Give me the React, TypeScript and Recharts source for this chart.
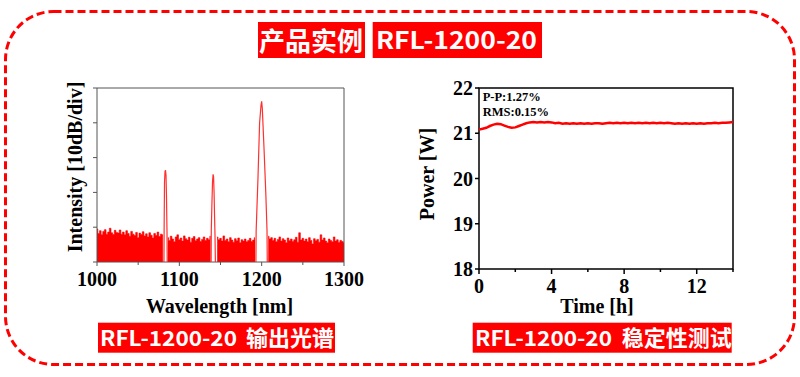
import React from 'react';
import {
  ComposedChart,
  LineChart,
  Line,
  Area,
  XAxis,
  YAxis,
  ReferenceArea,
  Label,
  Customized,
} from 'recharts';

const RED = '#ff0000';
const SERIF = '"Liberation Serif", "Times New Roman", serif';
const SANS = '"Noto Sans CJK SC", "Noto Sans", sans-serif';

// output spectrum, intensity in divisions (10 dB/div)
// noise floor sampled every 2 nm from 1000 nm; null where the lines sit
const floorStart = 1000;
const floorStep = 2;
const floorLevel: (number | null)[] = [
  // 1000 - 1030
  0.95, 0.82, 0.9, 0.78, 0.88, 0.93, 0.8, 0.86, 0.97, 0.84, 0.79, 0.91, 0.85, 0.83, 0.92, 0.8,
  // 1032 - 1080
  0.86, 0.78, 0.9, 0.82, 0.74, 0.88, 0.8, 0.76, 0.85, 0.7, 0.83, 0.79, 0.87, 0.75, 0.81, 0.72,
  0.84, 0.77, 0.69, 0.82, 0.76, 0.86, 0.73, 0.8, 0.78,
  // 1082 - 1084
  null, null,
  // 1086 - 1138
  0.7, 0.62, 0.74, 0.66, 0.58, 0.72, 0.78, 0.64, 0.69, 0.6, 0.75, 0.67, 0.63, 0.71, 0.57, 0.68,
  0.73, 0.61, 0.66, 0.7, 0.59, 0.65, 0.72, 0.62, 0.68, 0.64, 0.74,
  // 1140 - 1144
  null, null, null,
  // 1146 - 1192
  0.72, 0.64, 0.68, 0.6, 0.75, 0.62, 0.66, 0.58, 0.7, 0.63, 0.57, 0.67, 0.61, 0.69, 0.55, 0.64,
  0.6, 0.66, 0.58, 0.62, 0.68, 0.59, 0.63, 0.7,
  // 1194 - 1206
  null, null, null, null, null, null, null,
  // 1208 - 1300
  0.74, 0.66, 0.7, 0.62, 0.68, 0.58, 0.65, 0.72, 0.6, 0.67, 0.63, 0.55, 0.69, 0.61, 0.66, 0.59,
  0.64, 0.71, 0.57, 0.84, 0.63, 0.68, 0.6, 0.66, 0.58, 0.7, 0.62, 0.52, 0.67, 0.61, 0.65, 0.57,
  0.78, 0.63, 0.69, 0.6, 0.55, 0.66, 0.62, 0.58, 0.72, 0.6, 0.64, 0.56, 0.62, 0.59, 0.55,
];

const peak1083Nm = [1081.3, 1081.6, 1082.0, 1082.6, 1083.2, 1083.8, 1084.4, 1085.0, 1085.3];
const peak1083Lv = [0, 1.2, 2.3, 2.6, 2.64, 2.5, 1.9, 0.9, 0];
const peak1142Nm = [1138.6, 1138.8, 1139.5, 1140.3, 1141.0, 1141.6, 1142.2, 1142.8, 1143.3, 1143.8];
const peak1142Lv = [0, 0.9, 1.6, 2.3, 2.52, 2.45, 2.0, 1.3, 0.8, 0];
const peak1200Nm = [1193.0, 1193.3, 1195.5, 1197.5, 1199.2, 1200.0, 1200.8, 1202.8, 1205.0, 1206.5, 1206.8];
const peak1200Lv = [0, 0.9, 2.4, 4.0, 4.5, 4.62, 4.4, 3.3, 2.0, 0.9, 0];

const wlTicks = [1000, 1050, 1100, 1150, 1200, 1250, 1300];
const divTicks = [0, 1, 2, 3, 4, 5];

// stability test, sampled every 0.2 h
const timeStep = 0.2;
const powerW = [
  21.08, 21.1, 21.12, 21.16, 21.19, 21.21, 21.2, 21.17, 21.14, 21.12, 21.13, 21.16, 21.19, 21.22,
  21.24, 21.25, 21.24, 21.25, 21.24, 21.25, 21.24, 21.22, 21.23, 21.21, 21.22, 21.21, 21.22, 21.21,
  21.22, 21.21, 21.22, 21.21, 21.22, 21.22, 21.21, 21.22, 21.23, 21.22, 21.23, 21.22, 21.23, 21.22,
  21.23, 21.22, 21.23, 21.22, 21.23, 21.22, 21.23, 21.22, 21.23, 21.22, 21.23, 21.22, 21.21, 21.22,
  21.21, 21.22, 21.21, 21.22, 21.21, 21.22, 21.21, 21.22, 21.22, 21.23, 21.22, 21.23, 21.23, 21.24,
  21.25,
];
const timeTicks = [0, 2, 4, 6, 8, 10, 12, 14];
const powerTicks = [18, 19, 20, 21, 22];

const spectrumRows: { x: number; floor?: number; peak?: number }[] = [];
floorLevel.forEach((v, i) => {
  if (v !== null) spectrumRows.push({ x: floorStart + i * floorStep, floor: v });
});
[
  [peak1083Nm, peak1083Lv],
  [peak1142Nm, peak1142Lv],
  [peak1200Nm, peak1200Lv],
].forEach(([nm, lv]) => nm.forEach((x, i) => spectrumRows.push({ x, peak: lv[i] })));
spectrumRows.sort((a, b) => a.x - b.x);

const stabilityRows = powerW.map((p, i) => ({ t: i * timeStep, p }));

const tickFont = { fontFamily: SERIF, fontWeight: 700, fontSize: 20, fill: '#000' };

function WlTick({ x, y, payload }: any) {
  const major = payload.value % 100 === 0;
  return (
    <g>
      <line x1={x} y1={y} x2={x} y2={y + (major ? 4 : 3)} stroke="#555" />
      {major && (
        <text x={x} y={y + 17} textAnchor="middle" dominantBaseline="central" {...tickFont}>
          {payload.value}
        </text>
      )}
    </g>
  );
}

function DivTick({ x, y }: any) {
  return <line x1={x} y1={y} x2={x - 4} y2={y} stroke="#555" />;
}

function TimeTick({ x, y, payload }: any) {
  const major = payload.value % 4 === 0;
  return (
    <g>
      <line x1={x} y1={y} x2={x} y2={y + (major ? 5 : 3)} stroke="#000" strokeWidth={1.5} />
      {major && payload.value < 14 && (
        <text x={x} y={y + 17} textAnchor="middle" dominantBaseline="central" {...tickFont}>
          {payload.value}
        </text>
      )}
    </g>
  );
}

function PowerTick({ x, y, payload }: any) {
  return (
    <g>
      <line x1={x} y1={y} x2={x - 4} y2={y} stroke="#000" strokeWidth={1.5} />
      <text x={x - 6} y={y} textAnchor="end" dominantBaseline="central" {...tickFont}>
        {payload.value}
      </text>
    </g>
  );
}

function SpectrumChart() {
  return (
    <ComposedChart
      width={340}
      height={250}
      data={spectrumRows}
      margin={{ top: 18, right: 36, left: 0, bottom: 0 }}
    >
      <XAxis
        dataKey="x"
        type="number"
        domain={[1000, 1300]}
        ticks={wlTicks}
        interval={0}
        height={58}
        axisLine={false}
        tickLine={false}
        tickSize={0}
        tickMargin={0}
        tick={WlTick}
      >
        <Label
          content={() => (
            <text x={179.5} y={236} textAnchor="middle" dominantBaseline="central" {...tickFont}>
              Wavelength [nm]
            </text>
          )}
        />
      </XAxis>
      <YAxis
        type="number"
        domain={[0, 5]}
        ticks={divTicks}
        interval={0}
        width={57}
        axisLine={false}
        tickLine={false}
        tickSize={0}
        tickMargin={0}
        tick={DivTick}
      >
        <Label
          content={() => (
            <text
              x={35}
              y={97}
              transform="rotate(-90 35 97)"
              textAnchor="middle"
              dominantBaseline="central"
              {...tickFont}
            >
              Intensity [10dB/div]
            </text>
          )}
        />
      </YAxis>
      <Area
        dataKey="floor"
        type="step"
        stroke={RED}
        strokeWidth={0.6}
        fill={RED}
        fillOpacity={1}
        connectNulls={false}
        isAnimationActive={false}
      />
      <Line
        dataKey="peak"
        type="linear"
        stroke="#ff3030"
        strokeWidth={1.2}
        dot={false}
        connectNulls={false}
        isAnimationActive={false}
      />
      <ReferenceArea x1={1000} x2={1300} y1={0} y2={5} fill="none" stroke="#555" strokeWidth={1} />
    </ComposedChart>
  );
}

function StabilityChart() {
  return (
    <LineChart
      width={340}
      height={250}
      data={stabilityRows}
      margin={{ top: 18, right: 17, left: 0, bottom: 0 }}
    >
      <XAxis
        dataKey="t"
        type="number"
        domain={[0, 14]}
        ticks={timeTicks}
        interval={0}
        height={51}
        axisLine={false}
        tickLine={false}
        tickSize={0}
        tickMargin={0}
        tick={TimeTick}
      >
        <Label
          content={() => (
            <text x={187} y={236} textAnchor="middle" dominantBaseline="central" {...tickFont}>
              Time [h]
            </text>
          )}
        />
      </XAxis>
      <YAxis
        type="number"
        domain={[18, 22]}
        ticks={powerTicks}
        interval={0}
        width={69}
        axisLine={false}
        tickLine={false}
        tickSize={0}
        tickMargin={0}
        tick={PowerTick}
      >
        <Label
          content={() => (
            <text
              x={16.5}
              y={104}
              transform="rotate(-90 16.5 104)"
              textAnchor="middle"
              dominantBaseline="central"
              {...tickFont}
            >
              Power [W]
            </text>
          )}
        />
      </YAxis>
      <Line
        dataKey="p"
        type="linear"
        stroke={RED}
        strokeWidth={2.5}
        dot={false}
        isAnimationActive={false}
      />
      <ReferenceArea x1={0} x2={14} y1={18} y2={22} fill="none" stroke="#000" strokeWidth={1.5} />
      <Customized
        component={() => (
          <g fontFamily={SERIF} fontWeight={700} fontSize={12.5} fill="#000">
            <text x={72.7} y={26.7} dominantBaseline="central">P-P:1.27%</text>
            <text x={72.7} y={42.3} dominantBaseline="central">RMS:0.15%</text>
          </g>
        )}
      />
    </LineChart>
  );
}

const boxText = { fontFamily: SANS, fontWeight: 700, fill: '#fff' };

export default function App() {
  return (
    <div style={{ position: 'absolute', left: 0, top: 0, width: 800, height: 377, background: '#fff' }}>
      <svg width={800} height={377} style={{ position: 'absolute', left: 0, top: 0 }}>
        <rect
          x={5.5}
          y={11.5}
          width={789}
          height={353}
          rx={48}
          fill="none"
          stroke={RED}
          strokeWidth={3}
          strokeDasharray="8 4"
        />
        <rect x={258} y={22} width={107} height={36} fill={RED} />
        <text x={259} y={51} fontSize={26} textLength={104} lengthAdjust="spacingAndGlyphs" {...boxText}>
          产品实例
        </text>
        <rect x={372.7} y={22} width={169.3} height={36} fill={RED} />
        <text x={376} y={49.3} fontSize={24} textLength={161} lengthAdjust="spacingAndGlyphs" {...boxText}>
          RFL-1200-20
        </text>

        <rect x={98} y={322.7} width={237} height={30} fill={RED} />
        <text x={100} y={345.7} fontSize={21} textLength={137} lengthAdjust="spacingAndGlyphs" {...boxText}>
          RFL-1200-20
        </text>
        <text x={246} y={346.3} fontSize={22} textLength={88} lengthAdjust="spacingAndGlyphs" {...boxText}>
          输出光谱
        </text>

        <rect x={472.7} y={322.7} width={259} height={30} fill={RED} />
        <text x={475} y={345.7} fontSize={21} textLength={137} lengthAdjust="spacingAndGlyphs" {...boxText}>
          RFL-1200-20
        </text>
        <text x={621.7} y={346.3} fontSize={22} textLength={110} lengthAdjust="spacingAndGlyphs" {...boxText}>
          稳定性测试
        </text>
      </svg>
      <div style={{ position: 'absolute', left: 40, top: 70 }}>
        <SpectrumChart />
      </div>
      <div style={{ position: 'absolute', left: 410, top: 70 }}>
        <StabilityChart />
      </div>
    </div>
  );
}
